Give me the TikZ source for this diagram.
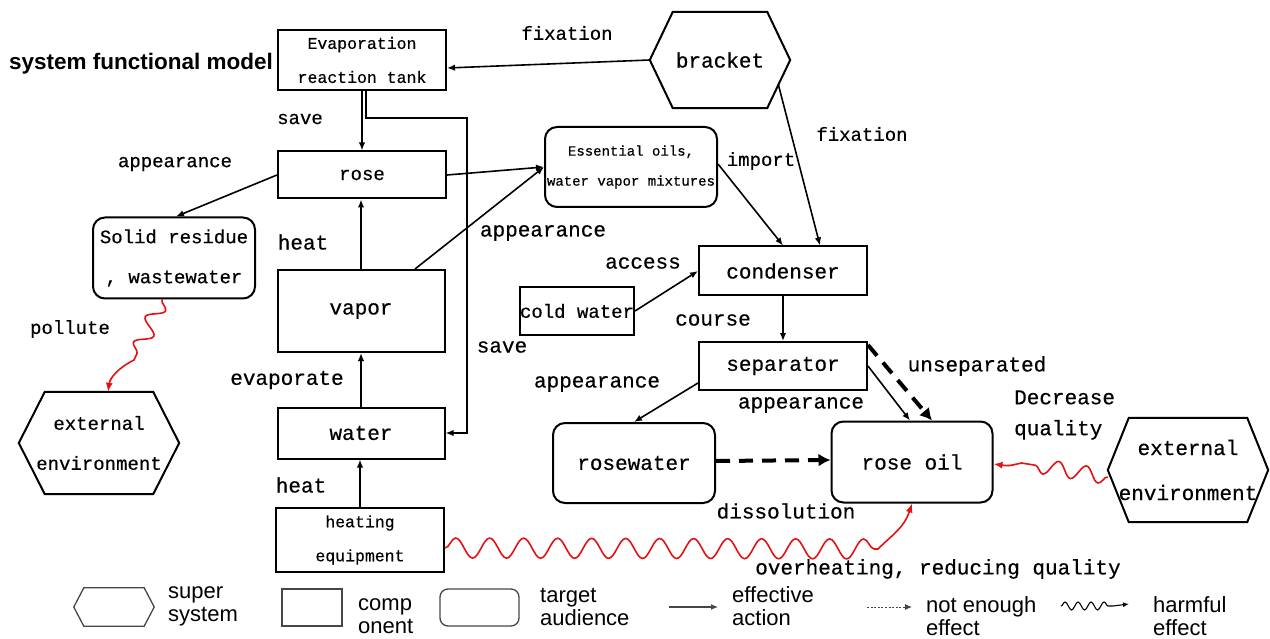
\documentclass[tikz,border=0pt]{standalone}
\usepackage{fontspec}
\setmainfont{Liberation Mono}[FakeBold=0.5]
\newfontfamily\sansfam{Liberation Sans}
\usetikzlibrary{arrows.meta,decorations.pathmorphing,calc}

% text sizes used in the model
\newcommand\fsS{\fontsize{14}{30}\selectfont}
\newcommand\fsM{\fontsize{16.5}{34}\selectfont}
\newcommand\fsN{\fontsize{19}{40}\selectfont}
\newcommand\fsL{\fontsize{21}{45}\selectfont}
\newcommand\fsLeg{\sansfam\fontsize{22}{23}\selectfont}

\definecolor{harmred}{RGB}{228,18,18}
\definecolor{leggray}{RGB}{70,70,70}

% hexagon outline around a (rectangular, invisible) node
\newcommand\hexoutline[3][]{%
  \draw[hexline,#1] (#2.west) -- ([xshift=#3]#2.north west) -- ([xshift=-#3]#2.north east)
    -- (#2.east) -- ([xshift=-#3]#2.south east) -- ([xshift=#3]#2.south west) -- cycle;}

\begin{document}
\begin{tikzpicture}[x=1pt,y=-1pt,
  box/.style={draw, line width=2pt, inner sep=0pt, align=center},
  tbox/.style={box, rounded corners=12pt},
  hexnode/.style={inner sep=0pt, align=center},
  hexline/.style={line width=2pt, line join=miter},
  lbl/.style={inner sep=0pt, font=\fsL},
  lbls/.style={inner sep=0pt, font=\fsN},
  arr/.style={line width=1.6pt, -{Latex[length=8pt,width=6.5pt]}},
  weak/.style={line width=4pt, dash pattern=on 14pt off 9pt, -{Latex[length=12pt,width=13pt]}},
  harm/.style={harmred, line width=1.6pt, -{Latex[length=9pt,width=7pt]}},
  legline/.style={leggray, line width=1.3pt},
  legtxt/.style={inner sep=0pt, anchor=west, align=left, font=\fsLeg},
]
\useasboundingbox (0,0) rectangle (1270,639);

% ---------- title ----------
\node[inner sep=0pt, anchor=west, font=\sansfam\bfseries\fontsize{22.5}{24}\selectfont] (title) at (9,64) {system functional model};

% ---------- components ----------
\node[box, minimum width=168pt, minimum height=60pt, font=\fsM] (tank) at (362,60) {Evaporation\\reaction tank};
\node[box, minimum width=168pt, minimum height=47pt, font=\fsN] (rose) at (362,175) {rose};
\node[box, minimum width=167pt, minimum height=82pt, font=\fsL] (vapor) at (361,311) {vapor};
\node[box, minimum width=167pt, minimum height=51pt, font=\fsL] (water) at (361,433) {water};
\node[box, minimum width=168pt, minimum height=64pt, font=\fsM] (heater) at (360,540) {heating\\equipment};
\node[box, minimum width=168pt, minimum height=49pt, font=\fsL] (cond) at (783,271) {condenser};
\node[box, minimum width=111pt, minimum height=48pt, font=\fsN] (cold) at (577,311) {cold water};
\node[box, minimum width=168pt, minimum height=48pt, font=\fsL] (sep) at (783,366) {separator};

% ---------- targets ----------
\node[tbox, minimum width=162pt, minimum height=81pt, font=\fsN] (solid) at (174,258) {Solid residue\\, wastewater};
\node[tbox, minimum width=172pt, minimum height=80pt, font=\fsS] (mix) at (631,167) {Essential oils,\\water vapor mixtures};
\node[tbox, minimum width=162pt, minimum height=80pt, font=\fsL] (rwater) at (634,463) {rosewater};
\node[tbox, minimum width=161pt, minimum height=81pt, font=\fsL] (roil) at (912,462) {rose oil};

% ---------- super systems ----------
\node[hexnode, minimum width=140pt, minimum height=96pt, font=\fsL] (bracket) at (720,60) {bracket};
\hexoutline{bracket}{23pt}
\node[hexnode, minimum width=160pt, minimum height=102pt, font=\fsN] (envL) at (99,443) {external\\environment};
\hexoutline{envL}{26pt}
\node[hexnode, minimum width=160pt, minimum height=104pt, font=\fsL] (envR) at (1188,470) {external\\environment};
\hexoutline{envR}{21pt}

% ---------- effective actions ----------
\draw[arr] (bracket.west) -- ([yshift=-8pt]tank.east);
\draw[arr] (tank.south) -- (rose.north);
\coordinate (saveturn) at (467,118);
\draw[arr] ([xshift=4pt]tank.south) |- (saveturn) |- (water.east);
\draw[arr] (rose.east) -- (mix.west);
\draw[arr] ([xshift=54pt]vapor.north) -- (mix.west);
\draw[arr] (rose.west) -- ([xshift=2pt]solid.north);
\draw[arr] (vapor.north) -- (vapor.north |- rose.south);
\draw[arr] (water.north) -- (water.north |- vapor.south);
\draw[arr] (heater.north) -- (heater.north |- water.south);
\draw[arr] ([yshift=3pt]mix.east) -- (cond.north);
\draw[arr] ([xshift=-12pt,yshift=-24pt]bracket.east) -- ([xshift=37pt]cond.north);
\draw[arr] (cold.east) -- (cond.west);
\draw[arr] (cond.south) -- (sep.north);
\draw[arr] ([yshift=-17pt]sep.west) -- (rwater.north);
\draw[arr] (sep.east) -- ([xshift=-2pt]roil.north);

% ---------- insufficient actions ----------
\draw[weak] ([yshift=-4pt]sep.north east) -- ([xshift=20pt]roil.north);
\draw[weak] ([yshift=2pt]rwater.east) -- ([yshift=2pt]roil.west);

% ---------- harmful actions ----------
\coordinate (polA) at ([xshift=-12pt]solid.south);
\coordinate (polB) at (134,360);
\draw[harm] (polA) decorate[decoration={snake, amplitude=8pt, segment length=28pt}] {-- (polB)}
  .. controls (118,368) and (110,378) .. ([xshift=9pt]envL.north);
\coordinate (decB) at ([xshift=28pt,yshift=-1pt]roil.east);
\draw[harm] ([yshift=-7pt]envR.west) decorate[decoration={snake, amplitude=7.5pt, segment length=28pt}] {-- (decB)}
  .. controls ([xshift=15pt,yshift=-4pt]roil.east) .. ([yshift=-2pt]roil.east);
\coordinate (heatB) at (878,549);
\draw[harm] ([yshift=-8pt]heater.east) decorate[decoration={snake, amplitude=10pt, segment length=34pt}] {-- (heatB)}
  .. controls (892,535) and (904,528) .. (roil.south);

% ---------- action labels ----------
\node[lbls] at (300,119) {save};
\node[lbls] at (175,164) {appearance};
\node[lbl] at (303,242) {heat};
\node[lbls] at (70,329) {pollute};
\node[lbl] at (287,380) {evaporate};
\node[lbl] at (301,485) {heat};
\node[lbls] at (567,33) {fixation};
\node[lbls] at (862,134) {fixation};
\node[lbls] at (761,161) {import};
\node[lbl] at (543,233) {appearance};
\node[lbl] at (643,263) {access};
\node[lbl] at (502,347) {save};
\node[lbl] at (713,320) {course};
\node[lbl] at (597,384) {appearance};
\node[lbl] at (801,405) {appearance};
\node[lbl] at (977,366) {unseparated};
\node[inner sep=0pt, anchor=west, align=left, font=\fontsize{21}{31}\selectfont] at (1014,415) {Decrease\\quality};
\node[lbl] at (786,511) {dissolution};
\node[lbl] at (938,569) {overheating, reducing quality};

% ---------- legend ----------
\node[hexnode, minimum width=80pt, minimum height=38pt] (lgHex) at (114,607) {};
\hexoutline[leggray, line width=1.3pt]{lgHex}{10pt}
\node[legtxt] at (168,606.5) {super\\system};
\node[draw=leggray, line width=1.3pt, minimum width=60pt, minimum height=37pt, inner sep=0pt] (lgComp) at (312,607.5) {};
\node[legtxt] at (358,616.5) {comp\\onent};
\node[draw=leggray, line width=1.3pt, rounded corners=8pt, minimum width=79pt, minimum height=37pt, inner sep=0pt] (lgTarget) at (479.5,607.5) {};
\node[legtxt] at (540,606.5) {target\\audience};
\coordinate (lgA1) at (669,607);
\coordinate (lgA2) at (718,607);
\draw[legline, line width=1.1pt, -{Latex[length=7pt,width=6pt]}] (lgA1) -- (lgA2);
\node[legtxt] at (732,606.5) {effective\\action};
\coordinate (lgB1) at (867,607);
\coordinate (lgB2) at (912,607);
\draw[legline, line width=1pt, dash pattern=on 2pt off 1.6pt, -{Latex[length=7pt,width=6pt]}] (lgB1) -- (lgB2);
\node[legtxt] at (926,616) {not enough\\effect};
\coordinate (lgC1) at (1061,606);
\coordinate (lgC2) at (1113,606);
\coordinate (lgC3) at (1129,604);
\draw[black, line width=1.1pt, -{Latex[length=6pt,width=5pt]}] (lgC1)
  decorate[decoration={snake, amplitude=4pt, segment length=13pt}] {-- (lgC2)} -- (lgC3);
\node[legtxt] at (1153,616) {harmful\\effect};
\end{tikzpicture}
\end{document}
